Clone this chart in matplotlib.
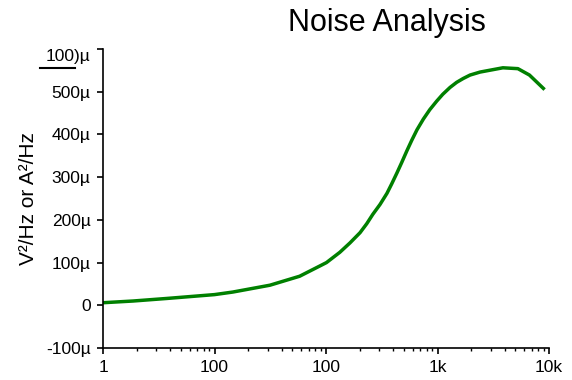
import matplotlib
matplotlib.use("Agg")
import matplotlib.pyplot as plt
from matplotlib.ticker import LogLocator, NullFormatter

plt.rcParams['font.family'] = ['Liberation Sans', 'DejaVu Sans']

# frequency (Hz) and noise density (in micro units, V²/Hz or A²/Hz)
freq = [1, 1.86, 3.74, 10, 14.6, 31.4, 58, 88, 101, 133, 164, 202, 232, 263,
        305, 352, 388, 433, 477, 532, 587, 655, 747, 853, 984, 1115, 1295,
        1486, 1702, 1959, 2408, 3860, 5260, 6680, 9130]
noise_u = [6, 10, 16, 25, 31, 47, 68, 92, 100, 124, 146, 170, 191, 213,
           236, 262, 284, 310, 334, 362, 386, 411, 436, 458, 478, 494, 510,
           522, 531, 539, 546, 556, 554, 539, 505]

x_ticks = [1, 10, 100, 1000, 10000]
x_labels = ["1", "100", "100", "1k", "10k"]
y_ticks = [-100, 0, 100, 200, 300, 400, 500, 600]
y_labels = ["-100µ", "0", "100µ", "200µ", "300µ", "400µ", "500µ", "100)µ"]

fig = plt.figure(figsize=(5.72, 3.80), dpi=100)
ax = fig.add_axes([103 / 572, 1 - 348 / 380, 446 / 572, 299 / 380])

ax.plot(freq, noise_u, color='#008000', lw=2.5, solid_capstyle='butt',
        solid_joinstyle='round')

ax.set_xscale('log')
ax.set_xlim(1, 10000)
ax.set_ylim(-100, 600)
ax.set_xticks(x_ticks)
ax.set_xticklabels(x_labels, fontsize=12.5)
ax.xaxis.set_minor_locator(LogLocator(base=10, subs=range(2, 10)))
ax.xaxis.set_minor_formatter(NullFormatter())
ax.set_yticks(y_ticks)
ax.set_yticklabels(y_labels, fontsize=12.5)
ax.get_yticklabels()[-1].set_va('top')

for s in ['top', 'right']:
    ax.spines[s].set_visible(False)
for s in ['left', 'bottom']:
    ax.spines[s].set_linewidth(1.2)

ax.tick_params(axis='both', which='major', direction='out', length=4, width=1.2, pad=5)
ax.tick_params(axis='x', which='minor', direction='out', length=2, width=1)

# underline of the odd top label
ax.plot([-0.141, -0.063], [555, 555], transform=ax.get_yaxis_transform(),
        color='black', lw=1.5, clip_on=False)

ax.set_ylabel("V²/Hz or A²/Hz", fontsize=15, labelpad=6)
fig.text(387 / 572, 1 - 23 / 380, "Noise Analysis", fontsize=22, ha='center', va='center')

fig.savefig("out.png", dpi=100)
